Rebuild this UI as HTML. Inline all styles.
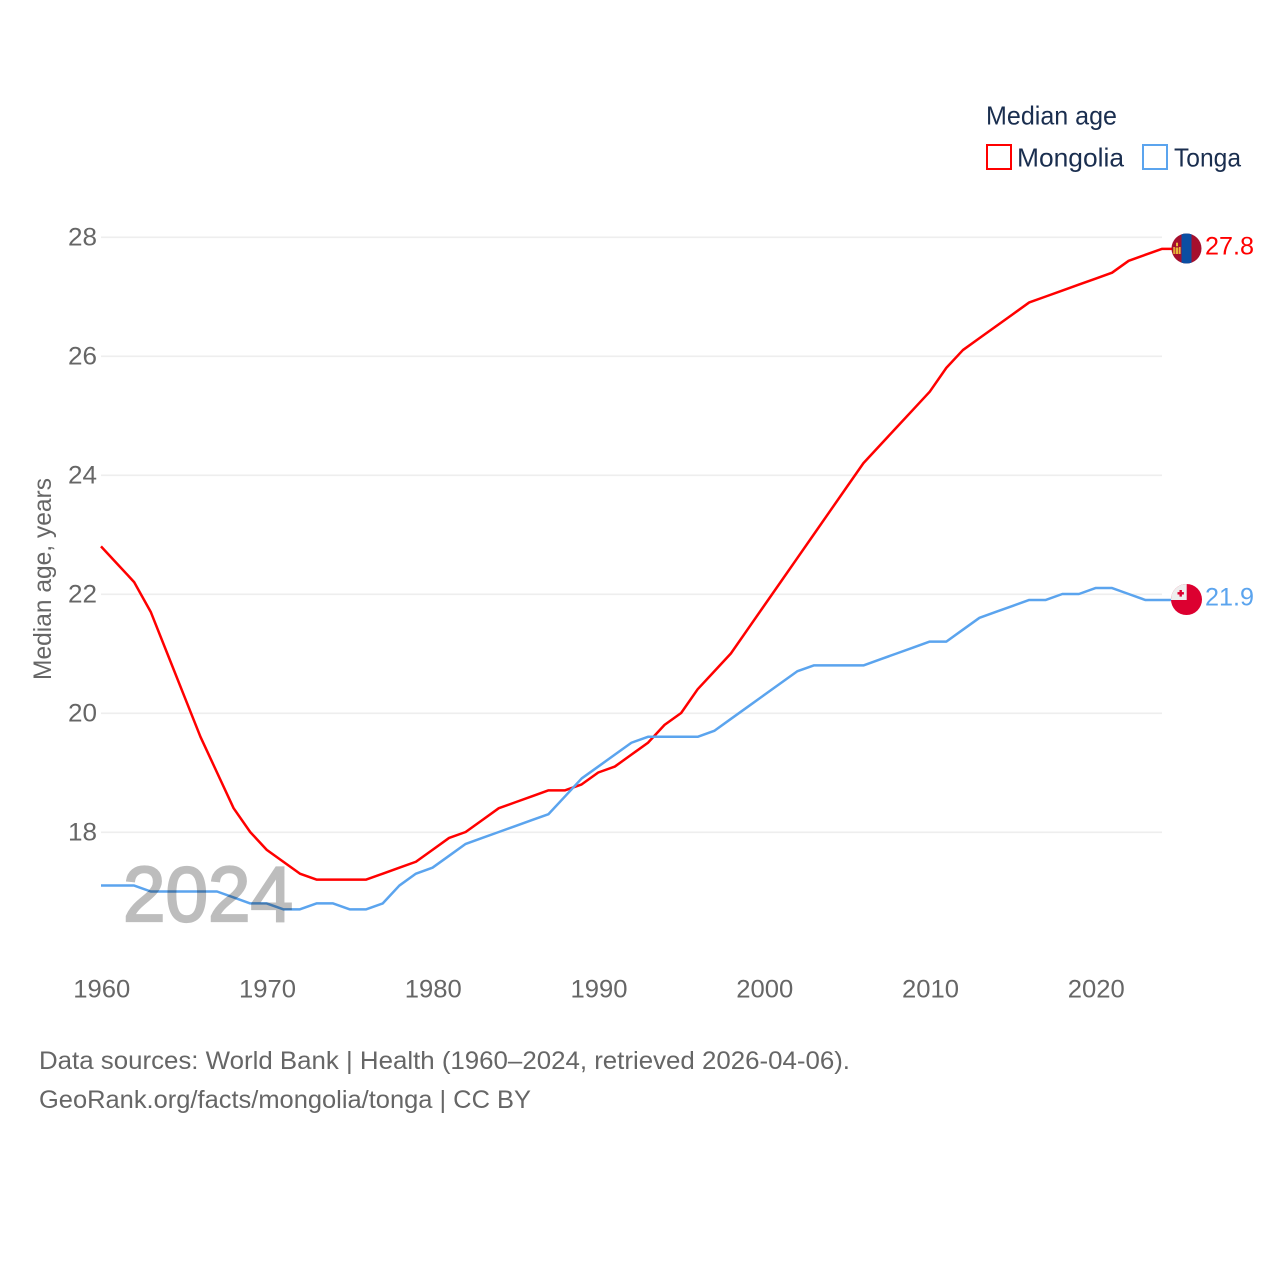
<!DOCTYPE html>
<html lang="en">
<head>
<meta charset="utf-8">
<title>Median age: Mongolia and Tonga</title>
<style>
html,body{margin:0;padding:0;background:#fff;}
svg{display:block;}
text{font-family:"Liberation Sans",sans-serif;}
</style>
</head>
<body>
<svg id="chart" xmlns="http://www.w3.org/2000/svg" width="1280" height="1280" viewBox="0 0 1280 1280">
  <rect x="0" y="0" width="1280" height="1280" fill="#ffffff"/>
  <g id="grid"></g>
  <g id="series"></g>
  <text x="123" y="921" font-size="78" font-weight="400" fill="#bdbdbd" textLength="170" lengthAdjust="spacingAndGlyphs" stroke="#bdbdbd" stroke-width="2.2" style="mix-blend-mode:multiply">2024</text>
  <g id="yticks"></g>
  <g id="xticks"></g>
  <text transform="translate(51,680) rotate(-90)" font-size="25" fill="#666666" textLength="202" lengthAdjust="spacingAndGlyphs">Median age, years</text>

  <g>
    <text x="986" y="124.5" font-size="26" fill="#1a2e4f" textLength="131" lengthAdjust="spacingAndGlyphs">Median age</text>
    <rect x="987" y="145" width="24" height="24" fill="none" stroke="#ff0000" stroke-width="2"/>
    <text x="1017" y="166.5" font-size="26" fill="#1a2e4f" textLength="107" lengthAdjust="spacingAndGlyphs">Mongolia</text>
    <rect x="1143" y="145" width="24" height="24" fill="none" stroke="#5ba4ee" stroke-width="2"/>
    <text x="1174" y="166.5" font-size="26" fill="#1a2e4f" textLength="67" lengthAdjust="spacingAndGlyphs">Tonga</text>
  </g>

  <defs>
    <clipPath id="flag-clip-mn"><circle id="mn-clip-circle" cx="1186.5" cy="248.5" r="15"/></clipPath>
    <clipPath id="flag-clip-to"><circle id="to-clip-circle" cx="1186.5" cy="599.5" r="15.5"/></clipPath>
  </defs>
  <g clip-path="url(#flag-clip-mn)">
    <rect x="1170" y="232" width="34" height="34" fill="#a50f2d"/>
    <rect x="1181.5" y="232" width="10" height="34" fill="#0b4ea2"/>
    <rect x="1176" y="242.7" width="2" height="3.5" fill="#e8b93a"/>
    <rect x="1173.3" y="247" width="1.6" height="7" fill="#e8b93a"/>
    <rect x="1179" y="247" width="1.6" height="7" fill="#e8b93a"/>
    <rect x="1175.6" y="247.5" width="2.8" height="6.5" fill="#e8b93a"/>
  </g>
  <g clip-path="url(#flag-clip-to)">
    <rect x="1170" y="583" width="34" height="34" fill="#dc0030"/>
    <rect x="1170" y="583" width="16.7" height="17" fill="#eeeeee"/>
    <rect x="1177.5" y="592.1" width="6.4" height="2.4" fill="#dc0030"/>
    <rect x="1179.5" y="590" width="2.4" height="6.6" fill="#dc0030"/>
  </g>
  <g id="endlabels"></g>

  <text x="39" y="1069" font-size="25" fill="#666666" textLength="811" lengthAdjust="spacingAndGlyphs">Data sources: World Bank | Health (1960–2024, retrieved 2026-04-06).</text>
  <text x="39" y="1108" font-size="25" fill="#666666" textLength="492" lengthAdjust="spacingAndGlyphs">GeoRank.org/facts/mongolia/tonga | CC BY</text>
</svg>
<script>
const years = [1960,1961,1962,1963,1964,1965,1966,1967,1968,1969,1970,1971,1972,1973,1974,1975,1976,1977,1978,1979,1980,1981,1982,1983,1984,1985,1986,1987,1988,1989,1990,1991,1992,1993,1994,1995,1996,1997,1998,1999,2000,2001,2002,2003,2004,2005,2006,2007,2008,2009,2010,2011,2012,2013,2014,2015,2016,2017,2018,2019,2020,2021,2022,2023,2024];
const mongolia = [22.8,22.5,22.2,21.7,21.0,20.3,19.6,19.0,18.4,18.0,17.7,17.5,17.3,17.2,17.2,17.2,17.2,17.3,17.4,17.5,17.7,17.9,18.0,18.2,18.4,18.5,18.6,18.7,18.7,18.8,19.0,19.1,19.3,19.5,19.8,20.0,20.4,20.7,21.0,21.4,21.8,22.2,22.6,23.0,23.4,23.8,24.2,24.5,24.8,25.1,25.4,25.8,26.1,26.3,26.5,26.7,26.9,27.0,27.1,27.2,27.3,27.4,27.6,27.7,27.8];
const tonga = [17.1,17.1,17.1,17.0,17.0,17.0,17.0,17.0,16.9,16.8,16.8,16.7,16.7,16.8,16.8,16.7,16.7,16.8,17.1,17.3,17.4,17.6,17.8,17.9,18.0,18.1,18.2,18.3,18.6,18.9,19.1,19.3,19.5,19.6,19.6,19.6,19.6,19.7,19.9,20.1,20.3,20.5,20.7,20.8,20.8,20.8,20.8,20.9,21.0,21.1,21.2,21.2,21.4,21.6,21.7,21.8,21.9,21.9,22.0,22.0,22.1,22.1,22.0,21.9,21.9];
const yTickValues = [18,20,22,24,26,28];
const xTickValues = [1960,1970,1980,1990,2000,2010,2020];

const NS = 'http://www.w3.org/2000/svg';
function xScale(year){ return 101 + (year - 1960) * 16.575; }
function yScale(value){ return 832 - (value - 18) * 59.5; }
function make(tag, attrs, parent, content){
  const el = document.createElementNS(NS, tag);
  for (const k in attrs) el.setAttribute(k, attrs[k]);
  if (content !== undefined) el.textContent = content;
  parent.appendChild(el);
  return el;
}

const grid = document.getElementById('grid');
const yticks = document.getElementById('yticks');
yTickValues.forEach(function(v){
  const line = make('line', {x1:101, x2:1162, y1:yScale(v)+0.3, y2:yScale(v)+0.3, stroke:'#eeeeee', 'stroke-width':1.6}, grid);
  
  
  const label = make('text', {x:97, y:yScale(v)+8.7, 'text-anchor':'end', 'font-size':25, fill:'#666666', textLength:29, lengthAdjust:'spacingAndGlyphs'}, yticks, String(v));
  
  
});

const xticks = document.getElementById('xticks');
xTickValues.forEach(function(v){
  const label = make('text', {x:xScale(v)+0.8, y:997.5, 'text-anchor':'middle', 'font-size':25, fill:'#666666', textLength:57, lengthAdjust:'spacingAndGlyphs'}, xticks, String(v));
  
  
});

function linePath(values){
  let d = values.map(function(v,i){ return (i ? 'L' : 'M') + xScale(years[i]).toFixed(2) + ' ' + yScale(v).toFixed(2); }).join(' ');
  d += ' L1172 ' + yScale(values[values.length-1]).toFixed(2);
  return d;
}

const series = document.getElementById('series');
const lineMongolia = make('path', {d:linePath(mongolia), fill:'none', stroke:'#ff0000', 'stroke-width':2.5, 'stroke-linejoin':'round'}, series);


const lineTonga = make('path', {d:linePath(tonga), fill:'none', stroke:'#5ba4ee', 'stroke-width':2.5, 'stroke-linejoin':'round'}, series);



const endlabels = document.getElementById('endlabels');
const endMongolia = make('text', {x:1205, y:yScale(mongolia[mongolia.length-1])+5.5, 'font-size':25, fill:'#ff0000', textLength:49, lengthAdjust:'spacingAndGlyphs'}, endlabels, mongolia[mongolia.length-1].toFixed(1));


const endTonga = make('text', {x:1205, y:yScale(tonga[tonga.length-1])+5.5, 'font-size':25, fill:'#5ba4ee', textLength:49, lengthAdjust:'spacingAndGlyphs'}, endlabels, tonga[tonga.length-1].toFixed(1));


</script>
</body>
</html>
